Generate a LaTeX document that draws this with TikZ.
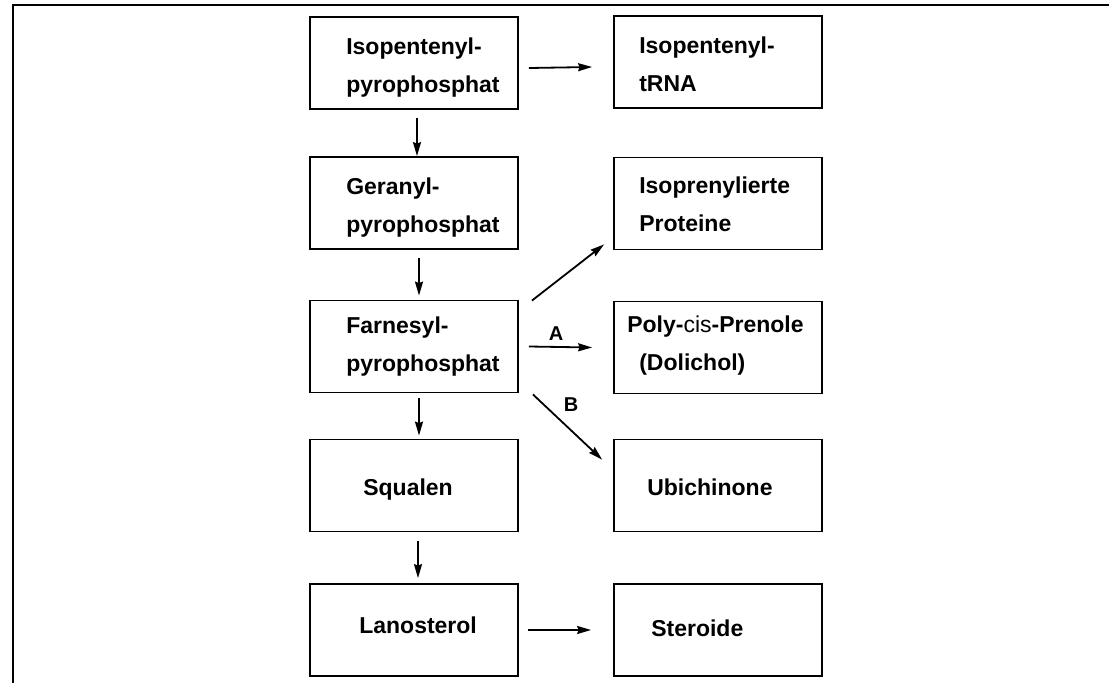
\documentclass[tikz,border=0pt]{standalone}
\usepackage{fontspec}
\setmainfont{Liberation Sans}
\usetikzlibrary{arrows.meta}
\tikzset{
  box/.style={draw, line width=1.8pt, minimum width=208pt, minimum height=92pt, inner sep=0pt},
  txt/.style={font=\fontsize{23}{38}\selectfont\bfseries, align=left, inner sep=0pt, anchor=base west},
  arr/.style={line width=1.8pt, -{Stealth[length=14pt,width=8pt,inset=1.5pt]}},
  lab/.style={font=\fontsize{20}{24}\selectfont\bfseries, inner sep=0pt}
}
\begin{document}
\begin{tikzpicture}[x=1pt,y=-1pt]
\useasboundingbox (0,0) rectangle (1109,683);
% frame
\draw[line width=2pt] (13,683) -- (13,5) -- (1109,5);
% left column
\node[box] (ipp) at (414,63) {};
\node[box] (gpp) at (414,203) {};
\node[box] (fpp) at (414,346.5) {};
\node[box] (squ) at (414,485.5) {};
\node[box] (lan) at (414,630) {};
% right column
\node[box] (trna) at (718,62) {};
\node[box] (ipr) at (718,203.5) {};
\node[box] (dol) at (718,347.5) {};
\node[box] (ubi) at (718,485.5) {};
\node[box] (ste) at (718,630) {};
% texts (base anchor = baseline of last line)
\node[txt] (t1) at ([shift={(37,76)}]ipp.north west) {Isopentenyl-\\pyrophosphat};
\node[txt] (t2) at ([shift={(37,76)}]gpp.north west) {Geranyl-\\pyrophosphat};
\node[txt] (t3) at ([shift={(37,72)}]fpp.north west) {Farnesyl-\\pyrophosphat};
\node[txt] (t4) at ([shift={(54,57)}]squ.north west) {Squalen};
\node[txt] (t5) at ([shift={(50,50)}]lan.north west) {Lanosterol};
\node[txt] (t6) at ([shift={(26,76)}]trna.north west) {Isopentenyl-\\tRNA};
\node[txt] (t7) at ([shift={(26,75)}]ipr.north west) {Isoprenylierte\\Proteine};
\node[txt] (t8) at ([shift={(14,70)}]dol.north west) {Poly-{\mdseries cis}-Prenole\\\hspace*{12pt}(Dolichol)};
\node[txt] (t9) at ([shift={(34,57)}]ubi.north west) {Ubichinone};
\node[txt] (t10) at ([shift={(38,53)}]ste.north west) {Steroide};
% arrows
\draw[arr] ([shift={(3,8)}]ipp.south) -- ([xshift=3]gpp.north);
\draw[arr] ([shift={(5,8)}]gpp.south) -- ([shift={(5,-4)}]fpp.north);
\draw[arr] ([shift={(5,5)}]fpp.south) -- ([shift={(5,-3)}]squ.north);
\draw[arr] ([shift={(4,9)}]squ.south) -- ([shift={(4,-5)}]lan.north);
\draw[arr] ([shift={(10,5)}]ipp.east) -- ([shift={(-21,5)}]trna.west);
\draw[arr] ([xshift=10]fpp.east) -- ([xshift=-21]dol.west);
\draw[arr] ([xshift=9]lan.east) -- ([xshift=-22]ste.west);
\draw[arr] ([shift={(13,1)}]fpp.north east) -- ([shift={(-9,-6)}]ipr.south west);
\draw[arr] ([shift={(14,1)}]fpp.south east) -- ([shift={(-11,21)}]ubi.north west);
% labels
\node[lab] (la) at (556,334) {A};
\node[lab] (lb) at (571,405) {B};
\end{tikzpicture}
\end{document}
